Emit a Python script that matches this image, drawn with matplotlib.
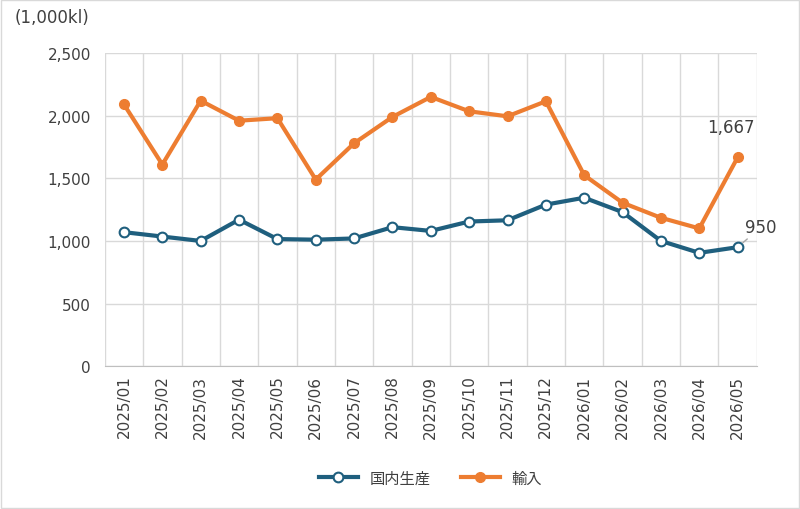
import matplotlib
matplotlib.use("Agg")
import matplotlib.pyplot as plt
from matplotlib.ticker import FuncFormatter, MultipleLocator

plt.rcParams['font.family'] = ['DejaVu Sans', 'Noto Sans CJK JP']

months = ["2025/01","2025/02","2025/03","2025/04","2025/05","2025/06","2025/07","2025/08",
          "2025/09","2025/10","2025/11","2025/12","2026/01","2026/02","2026/03","2026/04","2026/05"]
domestic = [1070,1035,1000,1170,1015,1010,1020,1110,1080,1155,1165,1290,1345,1230,1000,905,950]
imports = [2090,1610,2120,1960,1980,1490,1780,1990,2150,2035,1995,2115,1525,1305,1185,1100,1667]

fig = plt.figure(figsize=(8, 5.1), dpi=100)
ax = fig.add_axes([0.131, 0.28, 0.815, 0.614])
x = list(range(len(months)))
ax.plot(x, domestic, color='#1F5F7E', lw=3, marker='o', ms=7, mfc='white', mec='#1F5F7E', mew=1.5, label='国内生産', zorder=3)
ax.plot(x, imports, color='#ED7D31', lw=3, marker='o', ms=7, mfc='#ED7D31', mec='#ED7D31', label='輸入', zorder=3)
ax.set_xlim(-0.5, len(months)-0.5)
ax.set_ylim(0, 2500)
ax.yaxis.set_major_locator(MultipleLocator(500))
ax.yaxis.set_major_formatter(FuncFormatter(lambda v, p: f"{int(v):,}"))
ax.set_xticks(x)
ax.set_xticklabels(months, rotation=90, fontsize=11, color='#404040')
ax.set_xticks([i-0.5 for i in range(len(months)+1)], minor=True)
ax.tick_params(axis='x', which='major', length=0, pad=6)
ax.tick_params(axis='x', which='minor', length=0)
ax.tick_params(axis='y', length=0, labelsize=11, labelcolor='#404040', pad=10)
ax.grid(axis='y', which='major', color='#D9D9D9', lw=1)
ax.grid(axis='x', which='minor', color='#D9D9D9', lw=1)
for s in ['top', 'right', 'left']:
    ax.spines[s].set_visible(False)
ax.spines['bottom'].set_color('#BFBFBF')
fig.text(0.018, 0.955, '(1,000kl)', fontsize=12, color='#404040')
ax.text(15.2, 1870, f'{imports[-1]:,}', fontsize=12, color='#404040')
ax.annotate(f'{domestic[-1]:,}', (16, domestic[-1]), xytext=(16.2, 1070), fontsize=12, color='#404040',
            arrowprops=dict(arrowstyle='-', color='#A6A6A6', lw=1, shrinkA=0, shrinkB=5))
ax.legend(loc='upper center', bbox_to_anchor=(0.5, -0.29), ncol=2, frameon=False, fontsize=11,
          handlelength=2.5, columnspacing=2, labelcolor='#404040')
fig.patches.append(plt.Rectangle((0.001, 0.001), 0.998, 0.997, transform=fig.transFigure, fill=False, ec='#D9D9D9', lw=1))
fig.savefig('out.png', dpi=100)
